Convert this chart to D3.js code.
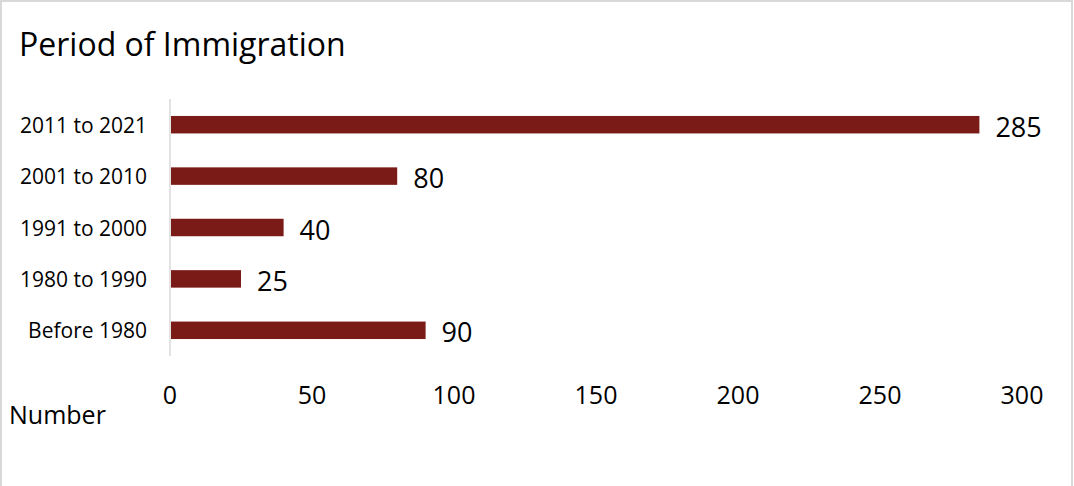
<!DOCTYPE html>
<html><head><meta charset="utf-8">
<script src="https://cdn.jsdelivr.net/npm/d3@7"></script>
<style>
html,body{margin:0;padding:0;background:#fff;}
text{font-family:"Open Sans","Noto Sans",sans-serif;fill:#000;}
</style></head>
<body>
<svg id="c" width="1074" height="486"></svg>
<script>
const categories = ["2011 to 2021","2001 to 2010","1991 to 2000","1980 to 1990","Before 1980"];
const values = [285, 80, 40, 25, 90];
const xTicks = [0, 50, 100, 150, 200, 250, 300];
const title = "Period of Immigration";
const axisTitle = "Number";

const svg = d3.select("#c");
svg.append("rect").attr("x",1).attr("y",1).attr("width",1071).attr("height",490)
  .attr("fill","#fff").attr("stroke","#d9d9d9").attr("stroke-width",2);

const x = d3.scaleLinear().domain([0,300]).range([170,1022]);
const y = d3.scaleBand().domain(categories).range([99,356]).paddingInner(0.66).paddingOuter(0.33);

svg.append("text").attr("x",19).attr("y",56).style("font-size","32px").text(title);

svg.append("line").attr("x1",170).attr("x2",170).attr("y1",99).attr("y2",356)
  .attr("stroke","#d9d9d9").attr("stroke-width",1.5);

svg.selectAll("rect.bar").data(values).enter().append("rect").attr("class","bar")
  .attr("x",x(0)+1).attr("y",(d,i)=>y(categories[i]))
  .attr("width",d=>x(d)-x(0)-1).attr("height",y.bandwidth())
  .attr("fill","#7a1b17");

svg.selectAll("text.val").data(values).enter().append("text").attr("class","val")
  .attr("x",d=>x(d)+16).attr("y",(d,i)=>y(categories[i])+y.bandwidth()/2+12)
  .style("font-size","27px").text(d=>d);

svg.selectAll("text.cat").data(categories).enter().append("text").attr("class","cat")
  .attr("x",147).attr("y",d=>y(d)+y.bandwidth()/2+8).attr("text-anchor","end")
  .style("font-size","21px").text(d=>d);

svg.selectAll("text.tick").data(xTicks).enter().append("text").attr("class","tick")
  .attr("x",d=>x(d)).attr("y",404).attr("text-anchor","middle")
  .style("font-size","25px").text(d=>d);

svg.append("text").attr("x",9).attr("y",424).style("font-size","25px").text(axisTitle);
</script>
</body></html>
